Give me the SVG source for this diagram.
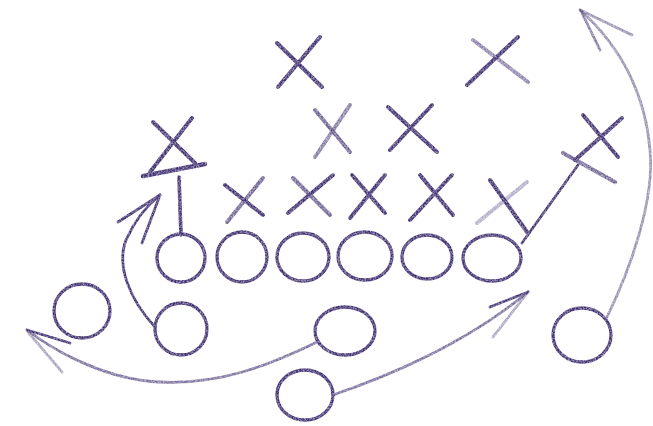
<svg xmlns="http://www.w3.org/2000/svg" width="653" height="426" viewBox="0 0 653 426">
<defs>
<filter id="chalk" x="-10%" y="-10%" width="120%" height="120%">
<feTurbulence type="fractalNoise" baseFrequency="0.6" numOctaves="2" seed="3" result="n"/>
<feColorMatrix in="n" type="matrix" values="0 0 0 0 0  0 0 0 0 0  0 0 0 0 0  0 0 0 -1.1 1.35" result="m"/>
<feComposite in="SourceGraphic" in2="m" operator="in"/>
</filter>
<style>
.s{fill:none;stroke:#3f2f70;stroke-linecap:round;stroke-linejoin:round;}
.x{stroke-width:4;}
.o{stroke-width:3.3;}
.l{stroke-width:2.8;}
.f{opacity:.45;}
</style>
</defs>
<rect width="653" height="426" fill="#ffffff"/>
<g filter="url(#chalk)">
<g id="defense">
<g id="x-top-1" class="s x"><path d="M277,43 L322,87"/><path d="M320,37 L278,87"/></g>
<g id="x-top-2" class="s x"><path d="M473,40 L528,82" opacity=".6"/><path d="M518,37 L467,85"/></g>
<g id="x-mid-1" class="s x"><path d="M315,110 L350,152" opacity=".75"/><path d="M350,105 L315,157" opacity=".65"/></g>
<g id="x-mid-2" class="s x"><path d="M388,107 L437,152"/><path d="M432,105 L390,150"/></g>
<g id="x-left" class="s x"><path d="M153,122 L195,163"/><path d="M192,118 L150,172"/></g>
<g id="x-right" class="s x"><path d="M583,115 L618,157"/><path d="M622,118 L575,160"/></g>
<g id="x-line-1" class="s x"><path d="M225,185 L263,215"/><path d="M263,178 L227,222" opacity=".75"/></g>
<g id="x-line-2" class="s x"><path d="M293,178 L330,215" opacity=".75"/><path d="M333,175 L288,213"/></g>
<g id="x-line-3" class="s x"><path d="M352,175 L385,213"/><path d="M385,175 L350,218"/></g>
<g id="x-line-4" class="s x"><path d="M420,175 L453,215"/><path d="M452,175 L410,220"/></g>
<g id="x-line-5" class="s x"><path d="M490,180 L527,232"/><path d="M527,182 L477,223" opacity=".4"/></g>
</g>
<g id="offense">
<g id="o-line-1" class="s o"><ellipse cx="181" cy="258" rx="24" ry="24"/></g>
<g id="o-line-2" class="s o"><ellipse cx="242" cy="257" rx="25" ry="25"/></g>
<g id="o-line-3" class="s o"><ellipse cx="303" cy="257" rx="26" ry="24"/></g>
<g id="o-line-4" class="s o"><ellipse cx="365" cy="256" rx="27" ry="24"/></g>
<g id="o-line-5" class="s o"><ellipse cx="427" cy="257" rx="25" ry="22"/></g>
<g id="o-line-6" class="s o"><ellipse cx="492" cy="258" rx="29" ry="23"/></g>
<g id="o-back-left" class="s o"><ellipse cx="82" cy="311" rx="28" ry="27"/></g>
<g id="o-back-2" class="s o"><ellipse cx="181" cy="329" rx="26" ry="26"/></g>
<g id="o-back-mid" class="s o"><ellipse cx="345" cy="331" rx="30" ry="24"/></g>
<g id="o-back-bottom" class="s o"><ellipse cx="305" cy="395" rx="28" ry="25"/></g>
<g id="o-right" class="s o"><ellipse cx="582" cy="335" rx="29" ry="27"/></g>
</g>
<g id="connectors" class="s l">
<path d="M143,176 L205,164" stroke-width="4.5"/>
<path d="M179,177 L181,235" stroke-width="3.6"/>
<path d="M522,243 L578,165"/>
<path d="M563,153 L615,182" stroke-width="4.2" opacity=".75"/>
<path d="M155,327 C130,300 116,266 126,240 C134,222 145,207 160,195"/>
<path d="M160,195 L118,222"/>
<path d="M160,195 L142,243"/>
<path d="M317,342 C270,365 220,385 160,382 C110,380 60,355 27,330" opacity=".7"/>
<path d="M27,330 L70,343"/>
<path d="M28,332 L62,372" class="f"/>
<path d="M333,395 C400,372 470,340 528,292" opacity=".7"/>
<path d="M528,292 L490,307"/>
<path d="M528,292 L493,337" class="f"/>
<path d="M607,317 C630,270 655,200 650,150 C646,100 625,50 580,10" opacity=".55"/>
<path d="M580,10 L632,35" opacity=".55"/>
<path d="M582,13 L600,50" opacity=".65"/>
</g>
</g>
</svg>
